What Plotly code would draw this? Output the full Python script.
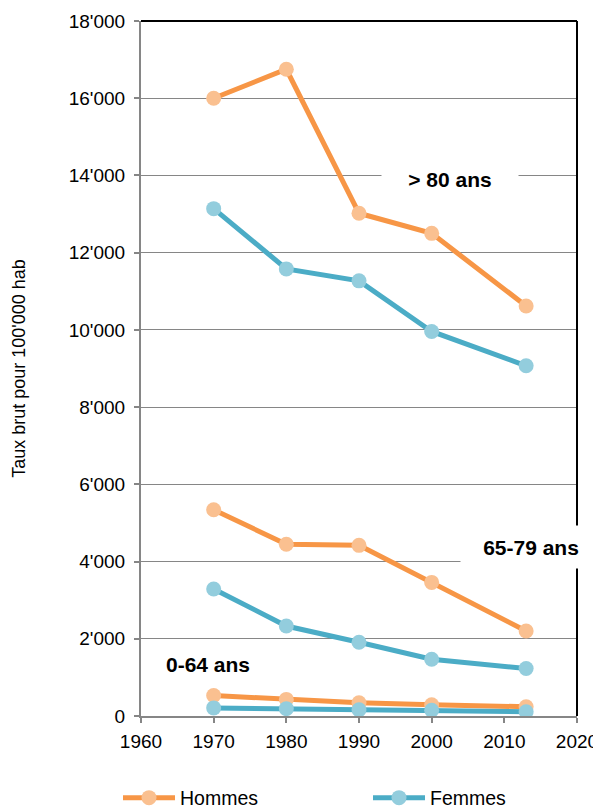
import plotly.graph_objects as go

years = [1970, 1980, 1990, 2000, 2013]
hommes_80 = [16000, 16750, 13020, 12500, 10620]
femmes_80 = [13140, 11580, 11270, 9960, 9070]
hommes_65 = [5340, 4450, 4420, 3460, 2200]
femmes_65 = [3290, 2330, 1910, 1470, 1230]
hommes_0 = [530, 430, 340, 290, 240]
femmes_0 = [210, 190, 160, 150, 110]

ytick_vals = [0, 2000, 4000, 6000, 8000, 10000, 12000, 14000, 16000, 18000]
ytick_text = ["0", "2'000", "4'000", "6'000", "8'000", "10'000", "12'000", "14'000", "16'000", "18'000"]
xtick_vals = [1960, 1970, 1980, 1990, 2000, 2010, 2020]

ORANGE_LINE = "#F79646"
ORANGE_MARK = "#FAC090"
TEAL_LINE = "#4BACC6"
TEAL_MARK = "#93CDDD"
GRID = "#868686"

FW, FH = 601, 812
# page body has an 8px margin; work in page pixels and convert
OFF = 8
L, R, T, B = 141 - OFF, 577 - OFF, 21 - OFF, 716 - OFF
W, H = R - L, B - T


def px(xp):
    return (xp - OFF - L) / W


def py(yp):
    return (B - (yp - OFF)) / H


fig = go.Figure()


def add(y, name, lc, mc, show, legend):
    fig.add_trace(go.Scatter(
        x=years, y=y, name=name, legendgroup=name, showlegend=show, legend=legend,
        mode="lines+markers",
        line=dict(color=lc, width=5),
        marker=dict(color=mc, size=15),
    ))


add(hommes_80, "Hommes", ORANGE_LINE, ORANGE_MARK, True, "legend")
add(hommes_65, "Hommes", ORANGE_LINE, ORANGE_MARK, False, "legend")
add(hommes_0, "Hommes", ORANGE_LINE, ORANGE_MARK, False, "legend")
add(femmes_80, "Femmes", TEAL_LINE, TEAL_MARK, True, "legend2")
add(femmes_65, "Femmes", TEAL_LINE, TEAL_MARK, False, "legend2")
add(femmes_0, "Femmes", TEAL_LINE, TEAL_MARK, False, "legend2")

font = "Liberation Sans, Arial, sans-serif"

leg_common = dict(orientation="h", yanchor="middle", xanchor="left",
                  font=dict(size=19.5, family=font), itemwidth=52,
                  bgcolor="rgba(0,0,0,0)", borderwidth=0)

fig.update_layout(
    width=FW, height=FH,
    margin=dict(l=L, r=FW - R, t=T, b=FH - B, autoexpand=False),
    paper_bgcolor="white", plot_bgcolor="white",
    font=dict(family=font, size=18, color="black"),
    showlegend=True,
    legend=dict(x=px(118), y=py(798), **leg_common),
    legend2=dict(x=px(368), y=py(798), **leg_common),
    xaxis=dict(range=[1960, 2020], tickvals=xtick_vals, showgrid=False,
               showline=True, linecolor=GRID, linewidth=2,
               ticks="outside", ticklen=5, tickcolor=GRID, tickwidth=2,
               tickfont=dict(size=19), zeroline=False, automargin=False,
               ticklabelstandoff=2),
    yaxis=dict(range=[0, 18000], tickvals=ytick_vals, ticktext=ytick_text,
               showgrid=True, gridcolor=GRID, gridwidth=1.3,
               showline=True, linecolor=GRID, linewidth=2,
               ticks="outside", ticklen=5, tickcolor=GRID, tickwidth=2,
               tickfont=dict(size=19), zeroline=False, automargin=False,
               ticklabelstandoff=5,
               title=dict(text="Taux brut pour 100'000 hab", font=dict(size=18), standoff=38)),
    shapes=[
        dict(type="line", xref="paper", yref="paper", x0=0, x1=1, y0=1, y1=1,
             line=dict(color="black", width=2), layer="above"),
        dict(type="line", xref="paper", yref="paper", x0=1, x1=1, y0=0, y1=1,
             line=dict(color="black", width=2), layer="above"),
    ],
    annotations=[
        dict(x=px(450), y=py(179), xref="paper", yref="paper",
             xanchor="center", yanchor="middle",
             text="<b>&gt; 80 ans</b>", showarrow=False,
             font=dict(size=21), bgcolor="white", width=134, height=36),
        dict(x=px(531), y=py(547), xref="paper", yref="paper",
             xanchor="center", yanchor="middle",
             text="<b>65-79 ans</b>", showarrow=False,
             font=dict(size=21), bgcolor="white", width=138, height=40),
        dict(x=px(208), y=py(664), xref="paper", yref="paper",
             xanchor="center", yanchor="middle",
             text="<b>0-64 ans</b>", showarrow=False,
             font=dict(size=21)),
    ],
)

fig.write_html("out.html")
